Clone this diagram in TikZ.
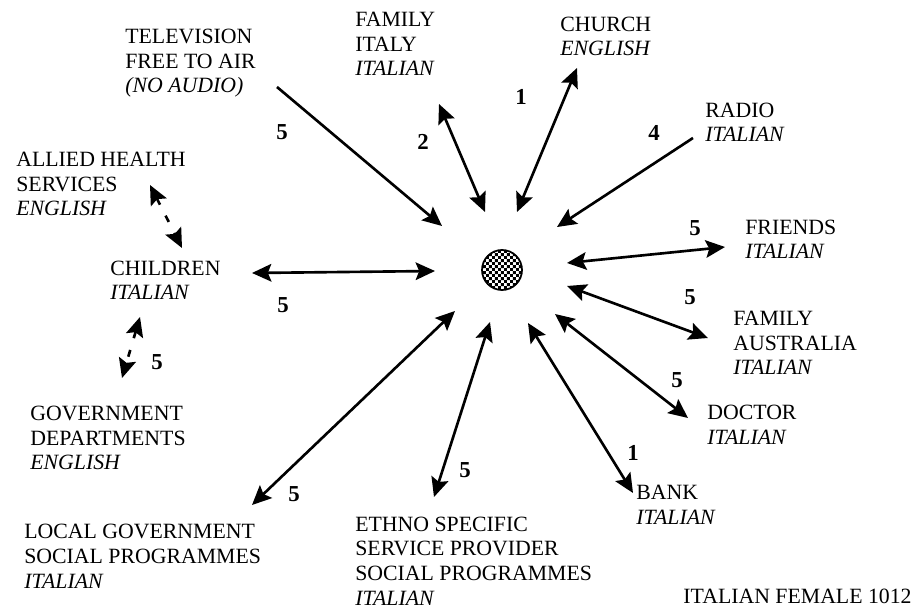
\documentclass[tikz,border=0pt]{standalone}
\usepackage{fontspec}
\setmainfont{Liberation Serif}
\usetikzlibrary{arrows.meta,patterns}

\pgfdeclarepatternformonly{finechecks}{\pgfpointorigin}{\pgfqpoint{3.6pt}{3.6pt}}{\pgfqpoint{3.6pt}{3.6pt}}{
  \pgfpathrectangle{\pgfpointorigin}{\pgfqpoint{1.8pt}{1.8pt}}
  \pgfpathrectangle{\pgfqpoint{1.8pt}{1.8pt}}{\pgfqpoint{1.8pt}{1.8pt}}
  \pgfusepath{fill}
}

\tikzset{
  lbl/.style={anchor=base west, align=left, inner sep=0pt,
    font=\fontsize{12.4}{14}\selectfont},
  num/.style={inner sep=0pt, font=\fontsize{13}{14}\selectfont\bfseries},
  tip/.tip={Stealth[length=11pt, width=10pt, inset=2pt]},
  link/.style={line width=1.5pt, tip-tip},
  oneway/.style={line width=1.5pt, -tip},
  loose/.style={link, dash pattern=on 4pt off 7pt},
}

\begin{document}
\begin{tikzpicture}[x=0.02cm, y=-0.02cm]
  \useasboundingbox (0,0) rectangle (917,611);

  \node[circle, draw, line width=1pt, minimum size=0.8cm, pattern=finechecks] (hub) at (502,270) {};

  % base of each label is its last line
  \node[lbl] (tv)       at (125,93)  {TELEVISION\\FREE TO AIR\\\textit{(NO AUDIO)}};
  \node[lbl] (famit)    at (355,76)  {FAMILY\\ITALY\\\textit{ITALIAN}};
  \node[lbl] (church)   at (560,56)  {CHURCH\\\textit{ENGLISH}};
  \node[lbl] (radio)    at (705,142) {RADIO\\\textit{ITALIAN}};
  \node[lbl] (friends)  at (745,259) {FRIENDS\\\textit{ITALIAN}};
  \node[lbl] (famau)    at (733,375) {FAMILY\\AUSTRALIA\\\textit{ITALIAN}};
  \node[lbl] (doctor)   at (707,444) {DOCTOR\\\textit{ITALIAN}};
  \node[lbl] (bank)     at (636,524) {BANK\\\textit{ITALIAN}};
  \node[lbl] (ethno)    at (355,605) {ETHNO SPECIFIC\\SERVICE PROVIDER\\SOCIAL PROGRAMMES\\\textit{ITALIAN}};
  \node[lbl] (localgov) at (24,588)  {LOCAL GOVERNMENT\\SOCIAL PROGRAMMES\\\textit{ITALIAN}};
  \node[lbl] (govdept)  at (30,470)  {GOVERNMENT\\DEPARTMENTS\\\textit{ENGLISH}};
  \node[lbl] (children) at (110,300) {CHILDREN\\\textit{ITALIAN}};
  \node[lbl] (allied)   at (16,216)  {ALLIED HEALTH\\SERVICES\\\textit{ENGLISH}};
  \node[lbl, anchor=base east] (tag) at (912,603) {ITALIAN FEMALE 1012};

  \node[num] (n-tv)       at (282,132) {5};
  \node[num] (n-famit)    at (423,142) {2};
  \node[num] (n-church)   at (521,97)  {1};
  \node[num] (n-radio)    at (654,133) {4};
  \node[num] (n-friends)  at (695,228) {5};
  \node[num] (n-famau)    at (690,297) {5};
  \node[num] (n-doctor)   at (677,380) {5};
  \node[num] (n-bank)     at (633,453) {1};
  \node[num] (n-ethno)    at (465,470) {5};
  \node[num] (n-localgov) at (294,494) {5};
  \node[num] (n-children) at (283,305) {5};
  \node[num] (n-govdept)  at (157,362) {5};

  \coordinate (tv-a)       at (277,87);
  \coordinate (tv-b)       at (442,226);
  \coordinate (famit-a)    at (439,104);
  \coordinate (famit-b)    at (485,212);
  \coordinate (church-a)   at (577,68);
  \coordinate (church-b)   at (517,212);
  \coordinate (radio-a)    at (693,138);
  \coordinate (radio-b)    at (557,227);
  \coordinate (friends-a)  at (567,263);
  \coordinate (friends-b)  at (725,247);
  \coordinate (famau-a)    at (567,286);
  \coordinate (famau-b)    at (708,338);
  \coordinate (doctor-a)   at (555,314);
  \coordinate (doctor-b)   at (688,418);
  \coordinate (bank-a)     at (528,323);
  \coordinate (bank-b)     at (633,493);
  \coordinate (ethno-a)    at (490,322);
  \coordinate (ethno-b)    at (434,497);
  \coordinate (localgov-a) at (455,311);
  \coordinate (localgov-b) at (252,505);
  \coordinate (children-a) at (435,271);
  \coordinate (children-b) at (252,273);
  \coordinate (allied-a)   at (150,185);
  \coordinate (allied-b)   at (182,248);
  \coordinate (govdept-a)  at (140,317);
  \coordinate (govdept-b)  at (122,378);

  \draw[oneway] (tv-a) -- (tv-b);
  \draw[link] (famit-a) -- (famit-b);
  \draw[link] (church-a) -- (church-b);
  \draw[oneway] (radio-a) -- (radio-b);
  \draw[link] (friends-a) -- (friends-b);
  \draw[link] (famau-a) -- (famau-b);
  \draw[link] (doctor-a) -- (doctor-b);
  \draw[link] (bank-a) -- (bank-b);
  \draw[link] (ethno-a) -- (ethno-b);
  \draw[link] (localgov-a) -- (localgov-b);
  \draw[link] (children-a) -- (children-b);
  \draw[loose] (allied-a) -- (allied-b);
  \draw[loose] (govdept-a) -- (govdept-b);
\end{tikzpicture}
\end{document}
